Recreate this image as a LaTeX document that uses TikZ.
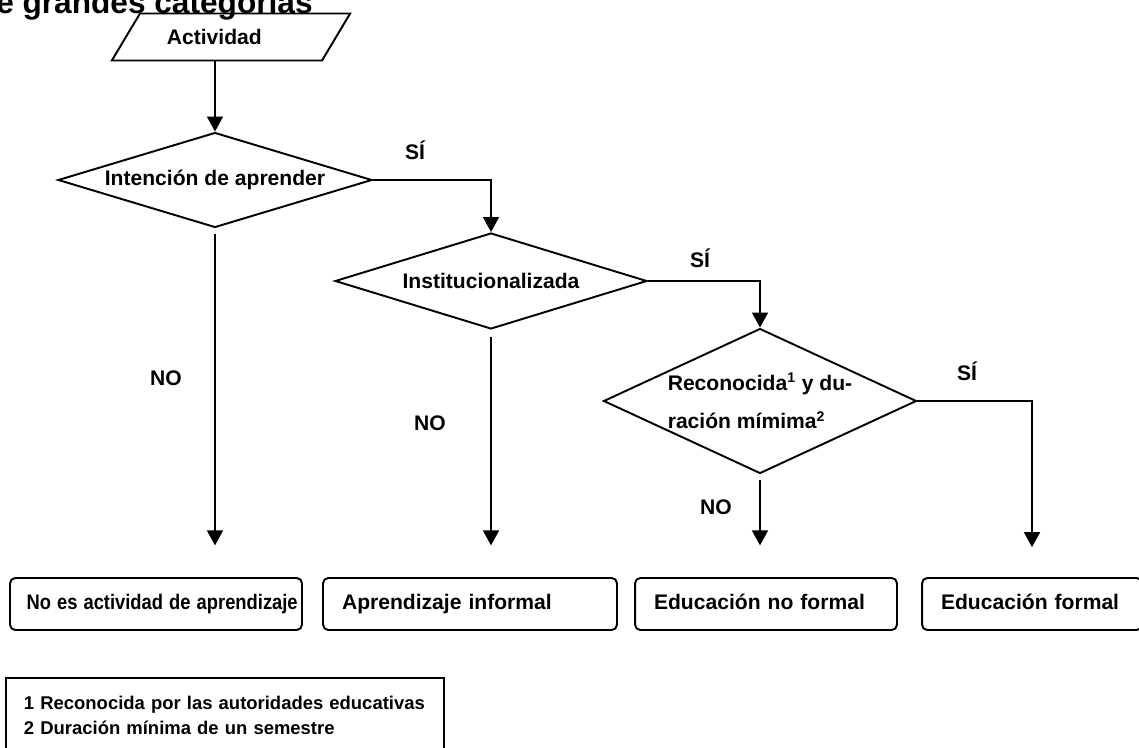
\documentclass[tikz,border=0pt]{standalone}
\usepackage{fontspec}
\setmainfont{Liberation Sans}
\usepackage{graphicx}
\usepackage{tikz}
\usetikzlibrary{arrows.meta,positioning,shapes}

\begin{document}
\begin{tikzpicture}[x=0.02cm,y=-0.02cm,
		txt/.style={font=\bfseries\fontsize{12}{14}\selectfont,inner sep=0pt},
		rombo/.style={diamond,draw,line width=1.1pt,inner sep=0pt,font=\bfseries\fontsize{12}{14}\selectfont},
		caja/.style={draw,rounded corners=3pt,line width=1.1pt,text width=#1,align=left,inner xsep=0.38cm,text height=9pt,text depth=3pt,minimum height=1.04cm,font=\bfseries\fontsize{12}{14}\selectfont},
		flecha/.style={line width=1.1pt,-{Triangle[length=8.5pt,width=9pt]}}]
		\useasboundingbox (0,0) rectangle (1139,747);
		
		\node[anchor=base east,font=\bfseries\fontsize{18}{20}\selectfont,inner sep=0pt] (titulo) at (313,13) {e grandes categorías};
		
		\node[trapezium,trapezium left angle=38,trapezium right angle=142,trapezium stretches=true,draw,line width=1.1pt,inner sep=0pt,minimum width=4.8cm,minimum height=0.94cm,font=\bfseries\fontsize{12}{14}\selectfont] (act) at (231,37) {Actividad\hspace*{19pt}};
		
		\node[rombo,shape aspect=3.3,minimum width=6.28cm,minimum height=1.9cm] (d1) at (215,180) {Intención de aprender};
		\node[rombo,shape aspect=3.3,minimum width=6.24cm,minimum height=1.92cm] (d2) at (491,281) {Institucionalizada};
		\node[rombo,shape aspect=2.16,minimum width=6.26cm,minimum height=2.9cm,align=left,font=\bfseries\fontsize{12}{22}\selectfont] (d3) at (760,401) {Reconocida\textsuperscript{1} y du-\\ración mímima\textsuperscript{2}};
		
		\node[caja=5.38cm,inner xsep=0.23cm] (b1) at (156,604) {\hspace*{0.1cm}\scalebox{0.87}[1]{No es actividad de aprendizaje}};
		\node[caja=5.12cm] (b2) at (470,604) {Aprendizaje informal};
		\node[caja=4.48cm] (b3) at (766,604) {Educación no formal};
		\node[caja=3.64cm] (b4) at (1032,604) {Educación formal};
		
		\node[draw,line width=1.1pt,anchor=north west,text width=8.04cm,inner xsep=0.36cm,minimum height=1.5cm,align=left,font=\bfseries\fontsize{10.5}{14.7}\selectfont] (notas) at (5,677) {1 Reconocida por las autoridades educativas\\2 Duración mínima de un semestre};
		
		\draw[flecha] (act.south -| d1.north) -- (d1.north);
		\draw[flecha] (d1.east) -| (d2.north);
		\draw[flecha] (d2.east) -| (d3.north);
		\draw[flecha,shorten >=17pt] (d3.east) -| (b4.north);
		\draw[flecha,shorten <=3pt,shorten >=18pt] (d1.south) -- (d1.south |- b1.north);
		\draw[flecha,shorten <=4pt,shorten >=18pt] (d2.south) -- (d2.south |- b2.north);
		\draw[flecha,shorten <=3pt,shorten >=18pt] (d3.south) -- (d3.south |- b3.north);
		
		\node[txt] (si1) at (415,150) {SÍ};
		\node[txt] (si2) at (700,258) {SÍ};
		\node[txt] (si3) at (967,371) {SÍ};
		\node[txt] (no1) at (166,378) {NO};
		\node[txt] (no2) at (430,423) {NO};
		\node[txt] (no3) at (716,507) {NO};
\end{tikzpicture}
\end{document}
